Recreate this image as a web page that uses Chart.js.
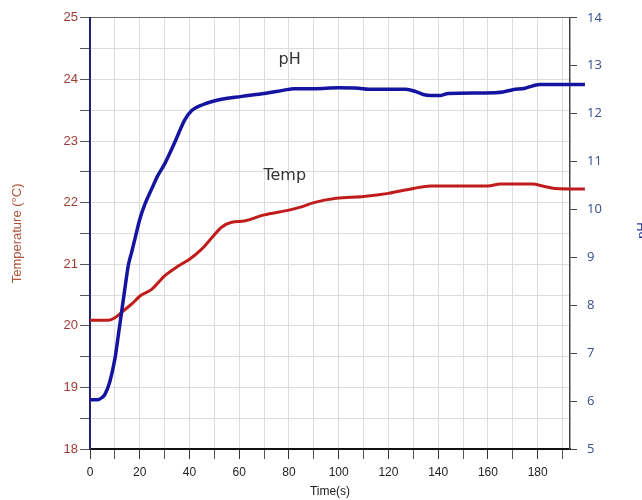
<!DOCTYPE html>
<html>
<head>
<meta charset="utf-8">
<script src="https://cdn.jsdelivr.net/npm/chart.js@4.4.1/dist/chart.umd.min.js"></script>
<style>
html,body{margin:0;padding:0;background:#fff;}
canvas{display:block;}
</style>
</head>
<body>
<canvas id="c" width="642" height="500"></canvas>
<script>
// ---- data ----
const phTime   = [0, 3, 5, 6, 8, 10, 11.4, 12.7, 14, 15.4, 16.7, 18, 20, 22, 25, 27, 30, 34, 38, 41, 45, 51, 61, 70, 78, 82, 90, 100, 108, 112, 127, 131, 134, 137, 141, 144, 158, 166, 170, 175, 178, 181, 199];
const phValues = [6.03, 6.03, 6.08, 6.14, 6.41, 6.88, 7.38, 7.86, 8.34, 8.83, 9.1, 9.37, 9.79, 10.1, 10.45, 10.68, 10.95, 11.39, 11.86, 12.07, 12.18, 12.28, 12.36, 12.42, 12.49, 12.52, 12.52, 12.54, 12.53, 12.51, 12.51, 12.46, 12.4, 12.38, 12.38, 12.42, 12.43, 12.45, 12.5, 12.53, 12.58, 12.61, 12.61];

const tempTime   = [0, 7.5, 10, 13.3, 16.7, 20, 24.8, 30, 35.5, 40, 44.8, 48.8, 52.9, 57, 62, 70, 79, 85, 90, 99, 110, 120, 130, 137, 160, 165, 178, 182, 187, 199];
const tempValues = [20.09, 20.09, 20.13, 20.24, 20.35, 20.48, 20.59, 20.81, 20.97, 21.08, 21.24, 21.42, 21.6, 21.68, 21.7, 21.8, 21.87, 21.93, 22.0, 22.07, 22.1, 22.15, 22.23, 22.27, 22.27, 22.3, 22.3, 22.27, 22.23, 22.22];

const xTickLabels = [0, 20, 40, 60, 80, 100, 120, 140, 160, 180];
const tempTickLabels = [18, 19, 20, 21, 22, 23, 24, 25];
const phTickLabels = [5, 6, 7, 8, 9, 10, 11, 12, 13, 14];

// text labels placed in data coordinates (x: time, y: temperature)
const annotations = [
  {text: 'pH',   x: 80.3, y: 24.32},
  {text: 'Temp', x: 78.3, y: 22.44}
];

const toXY = (xs, ys) => xs.map((x, i) => ({x: x, y: ys[i]}));

const labelPlugin = {
  id: 'labels',
  afterDraw(chart) {
    const ctx = chart.ctx;
    const xs = chart.scales.x, ys = chart.scales.y;
    ctx.save();
    ctx.font = '16px "DejaVu Sans"';
    ctx.fillStyle = '#333333';
    ctx.textAlign = 'center';
    ctx.textBaseline = 'middle';
    annotations.forEach(a => {
      ctx.fillText(a.text, xs.getPixelForValue(a.x), ys.getPixelForValue(a.y));
    });
    // right axis title (partly cut off at the edge of the picture)
    ctx.translate(642, (chart.chartArea.top + chart.chartArea.bottom) / 2 - 3);
    ctx.rotate(-Math.PI / 2);
    ctx.font = '13px "Liberation Sans"';
    ctx.fillStyle = '#2a3a9a';
    ctx.fillText('pH', 0, 0);
    ctx.restore();
  }
};

new Chart(document.getElementById('c'), {
  type: 'line',
  data: {
    datasets: [
      {
        label: 'pH',
        data: toXY(phTime, phValues),
        yAxisID: 'y1',
        borderColor: '#1414a0',
        borderWidth: 3.5,
        pointRadius: 0,
        cubicInterpolationMode: 'monotone',
        clip: {left: 2, right: 16, top: 2, bottom: 2},
        fill: false
      },
      {
        label: 'Temp',
        data: toXY(tempTime, tempValues),
        yAxisID: 'y',
        borderColor: '#c01c1c',
        borderWidth: 3,
        pointRadius: 0,
        cubicInterpolationMode: 'monotone',
        clip: {left: 2, right: 16, top: 2, bottom: 2},
        fill: false
      }
    ]
  },
  options: {
    responsive: false,
    animation: false,
    events: [],
    layout: {padding: {top: 15, left: 0, right: 0, bottom: 0}},
    plugins: {legend: {display: false}, tooltip: {enabled: false}},
    scales: {
      x: {
        type: 'linear',
        min: 0,
        max: 193,
        afterFit: s => { s.height = 51; },
        ticks: {
          stepSize: 10,
          includeBounds: false,
          autoSkip: false,
          maxRotation: 0,
          padding: 6,
          color: '#222',
          font: {family: '"Liberation Sans"', size: 12},
          callback: v => xTickLabels.includes(v) ? String(v) : ''
        },
        grid: {
          color: '#dcdcdc',
          tickColor: ctx => (ctx.tick && ctx.tick.value % 20 === 0) ? '#333' : '#555',
          tickLength: 10,
          lineWidth: 1
        },
        border: {color: '#111', width: 2},
        title: {
          display: true,
          text: 'Time(s)',
          color: '#222',
          font: {family: '"Liberation Sans"', size: 12},
          padding: {top: 0, bottom: 1}
        }
      },
      y: {
        position: 'left',
        min: 18,
        max: 25,
        afterFit: s => { s.width = 90; },
        ticks: {
          stepSize: 0.5,
          autoSkip: false,
          padding: 2,
          color: '#a03a34',
          font: {family: '"Liberation Sans"', size: 13},
          callback: v => tempTickLabels.includes(v) ? String(v) : ''
        },
        grid: {
          color: ctx => (ctx.tick && ctx.tick.value === 25) ? '#666' : '#dcdcdc',
          tickColor: '#555',
          tickLength: 10,
          lineWidth: 1
        },
        border: {color: '#24246e', width: 2},
        title: {
          display: true,
          text: 'Temperature (°C)',
          color: '#b0553c',
          font: {family: '"Liberation Sans"', size: 13},
          padding: {top: 10, bottom: 0}
        }
      },
      y1: {
        position: 'right',
        min: 5,
        max: 14,
        afterFit: s => { s.width = 72; },
        ticks: {
          stepSize: 1,
          autoSkip: false,
          padding: 10,
          color: '#3a4a8c',
          font: {family: '"Open Sans"', size: 13},
          callback: v => phTickLabels.includes(v) ? String(v) : ''
        },
        grid: {
          drawOnChartArea: false,
          tickColor: '#444',
          tickLength: 7
        },
        border: {color: '#444', width: 1.5},
        title: {display: false}
      }
    }
  },
  plugins: [labelPlugin]
});
</script>
</body>
</html>
